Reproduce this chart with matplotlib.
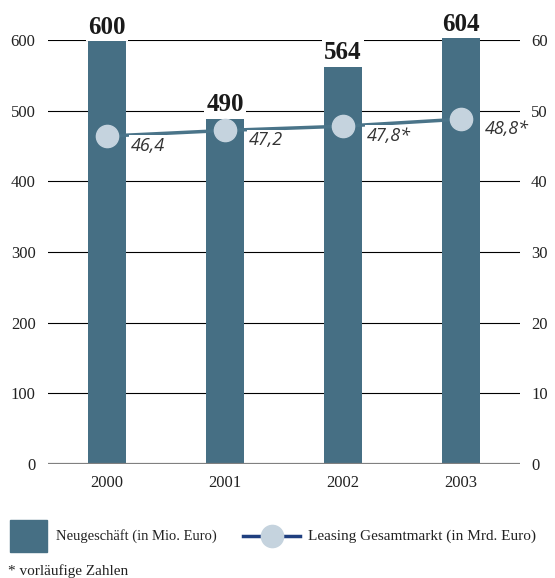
import numpy as np
import matplotlib
matplotlib.use("Agg")
import matplotlib.pyplot as plt
from matplotlib.patches import Rectangle
from matplotlib.lines import Line2D

years = ["2000", "2001", "2002", "2003"]
neugeschaeft = [600, 490, 564, 604]          # Mio. Euro
gesamtmarkt = [46.4, 47.2, 47.8, 48.8]       # Mrd. Euro
markt_labels = ["46,4", "47,2", "47,8*", "48,8*"]
left_ticks = [0, 100, 200, 300, 400, 500, 600]
right_ticks = [0, 10, 20, 30, 40, 50, 60]

bar_col = "#466f84"
line_col = "#4a7489"
legend_line_col = "#1f3f7f"
dot_col = "#c5d3de"
serif = "Liberation Serif"

W, H = 555, 578
fig = plt.figure(figsize=(W / 100, H / 100), dpi=100)
ax = fig.add_axes([48 / W, 114 / H, 472 / W, 424 / H])
x = np.arange(len(years))

bars = ax.bar(x, neugeschaeft, width=0.32, color=bar_col, zorder=2)
for b in bars:
    b.set_clip_on(False)
ax.set_xlim(-0.5, 3.5)
ax.set_ylim(0, 600)
ax.set_yticks(left_ticks)
ax.grid(axis="y", color="black", lw=0.8, zorder=0)
ax.axhline(0, color="#808080", lw=1.6, zorder=3)
for s in ax.spines.values():
    s.set_visible(False)
ax.tick_params(length=0)
ax.tick_params(axis="y", pad=9)
ax.tick_params(axis="x", pad=8)
ax.set_xticks(x)
ax.set_xticklabels(years)
for lab in ax.get_xticklabels() + ax.get_yticklabels():
    lab.set_fontfamily(serif)
    lab.set_fontsize(12)
    lab.set_color("#222222")

for xi, v in zip(x, neugeschaeft):
    ax.annotate(str(v), (xi, v), xytext=(0, 1), textcoords="offset points",
                ha="center", va="bottom", fontsize=18, fontweight="bold",
                family=serif, color="#1a1a1a", zorder=4, annotation_clip=False,
                bbox=dict(boxstyle="square,pad=0.1", fc="white", ec="none"))

ax2 = ax.twinx()
ax2.set_ylim(0, 60)
ax2.set_yticks(right_ticks)
for s in ax2.spines.values():
    s.set_visible(False)
ax2.tick_params(length=0, pad=8)
for lab in ax2.get_yticklabels():
    lab.set_fontfamily(serif)
    lab.set_fontsize(12)
    lab.set_color("#222222")

ax2.plot(x, gesamtmarkt, color=line_col, lw=2.5, marker="o", ms=16,
         mfc=dot_col, mec=dot_col, zorder=3)
for xi, v, t in zip(x, gesamtmarkt, markt_labels):
    ax2.annotate(t, (xi, v), xytext=(17, -7), textcoords="offset points",
                 ha="left", va="center", fontsize=13, style="italic",
                 family="Open Sans", color="#333333",
                 bbox=dict(boxstyle="square,pad=0.08", fc="white", ec="none"))

# legend
fig.patches.append(Rectangle((10 / W, 1 - 552 / H), 37 / W, 32 / H,
                             transform=fig.transFigure, color=bar_col))
fig.text(56 / W, 1 - 536 / H, "Neugeschäft (in Mio. Euro)", family=serif,
         fontsize=10.5, va="center", color="#222222")
fig.lines.append(Line2D([243 / W, 300 / W], [1 - 536 / H] * 2,
                        transform=fig.transFigure, color=legend_line_col, lw=2.5))
fig.lines.append(Line2D([272 / W], [1 - 536 / H], transform=fig.transFigure,
                        marker="o", ms=16, mfc=dot_col, mec=dot_col))
fig.text(308 / W, 1 - 536 / H, "Leasing Gesamtmarkt (in Mrd. Euro)", family=serif,
         fontsize=11, va="center", color="#222222")
fig.text(8 / W, 1 - 571 / H, "* vorläufige Zahlen", family=serif,
         fontsize=11, va="center", color="#222222")

fig.savefig("out.png", dpi=100)
